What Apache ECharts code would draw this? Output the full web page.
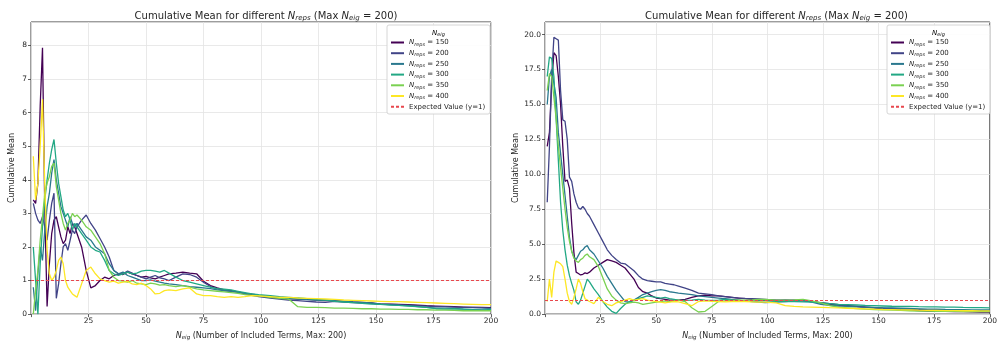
<!DOCTYPE html>
<html>
<head>
<meta charset="utf-8">
<script src="https://cdn.jsdelivr.net/npm/echarts@6/dist/echarts.min.js"></script>
<style>
  html, body { margin: 0; padding: 0; background: #fff; }
  #chart { width: 1000px; height: 346px; }
</style>
</head>
<body>
<div id="chart"></div>
<script>
// Number of included terms at which each cumulative mean is recorded
const xTerms = [
  1, 2, 3, 4, 5, 6, 7, 8, 9, 10, 11, 12, 13, 14, 15, 16, 17, 18, 19, 20,
  22, 24, 26, 28, 30, 32, 34, 36, 38, 40, 42, 44, 46, 48, 50, 52, 54, 56, 58, 60,
  63, 66, 69, 72, 75, 78, 81, 84, 87, 90, 93, 96, 99,
  104, 108, 112, 116, 120, 124, 128, 132, 136, 140, 144, 148, 152, 156, 160, 164, 168, 172, 176, 180, 184, 188, 192, 196, 200
];

const repsValues = ['150', '200', '250', '300', '350', '400'];
const repsColors = ['#440154', '#414487', '#2a788e', '#22a884', '#7ad151', '#fde725'];
const expectedValue = 1;
const expectedName = 'Expected Value (y=1)';

const xTicks = [25, 50, 75, 100, 125, 150, 175, 200];

// Left panel: cumulative means
const leftMean150 = [
  3.4, 3.3, 3.9, 6.2, 7.93, 3.1, 0.23, 1.5, 2.4, 2.8, 2.9, 2.6, 2.3, 2.1, 2.2, 2.6, 2.4, 2.7, 2.6, 2.4,
  2.0, 1.3, 0.78, 0.85, 1.0, 1.1, 1.05, 1.15, 1.2, 1.18, 1.25, 1.2, 1.15, 1.1, 1.12, 1.08, 1.05, 1.1, 1.15, 1.2,
  1.22, 1.25, 1.22, 1.2, 0.98, 0.85, 0.78, 0.72, 0.7, 0.66, 0.62, 0.58, 0.55,
  0.5, 0.48, 0.47, 0.45, 0.44, 0.42, 0.4, 0.4, 0.38, 0.36, 0.35, 0.33, 0.3, 0.3, 0.29, 0.28, 0.27, 0.25, 0.24, 0.23, 0.22, 0.21, 0.2, 0.2, 0.19
];
const leftMean200 = [
  3.3, 3.0, 2.8, 2.7, 2.9, 2.6, 2.2, 2.8, 3.3, 3.6, 0.47, 0.9, 1.5, 2.0, 2.1, 1.9, 2.2, 2.5, 2.4, 2.6,
  2.8, 2.95, 2.7, 2.5, 2.25, 2.0, 1.7, 1.3, 1.2, 1.2, 1.28, 1.22, 1.15, 1.1, 1.05, 1.1, 1.15, 1.08, 1.05, 1.0,
  1.1, 1.2, 1.18, 1.1, 0.95, 0.82, 0.75, 0.7, 0.68, 0.66, 0.6, 0.56, 0.52,
  0.48, 0.45, 0.42, 0.4, 0.38, 0.36, 0.35, 0.38, 0.36, 0.34, 0.33, 0.32, 0.3, 0.29, 0.28, 0.27, 0.25, 0.24, 0.22, 0.22, 0.21, 0.2, 0.2, 0.19, 0.18
];
const leftMean250 = [
  0.8, 0.1, 1.2, 2.0, 1.6, 2.5, 3.2, 3.6, 4.2, 4.6, 4.0, 3.6, 3.2, 3.0, 2.8, 2.6, 2.9, 2.7, 2.6, 2.7,
  2.5, 2.3, 2.2, 2.0, 1.9, 1.8, 1.5, 1.3, 1.2, 1.25, 1.15, 1.1, 1.05, 1.0, 1.0, 1.02, 0.98, 0.95, 0.92, 0.9,
  0.88, 0.85, 0.82, 0.8, 0.78, 0.76, 0.72, 0.7, 0.68, 0.65, 0.62, 0.6, 0.56,
  0.53, 0.5, 0.47, 0.45, 0.43, 0.42, 0.42, 0.4, 0.38, 0.36, 0.35, 0.33, 0.3, 0.28, 0.26, 0.25, 0.22, 0.2, 0.18, 0.18, 0.17, 0.15, 0.14, 0.15, 0.16
];
const leftMean300 = [
  2.0, 1.0, 0.0, 1.5, 2.6, 3.4, 4.0, 4.5, 4.9, 5.2, 4.5, 3.9, 3.5, 3.1, 2.9, 3.0, 2.8, 2.5, 2.7, 2.6,
  2.4, 2.2, 2.0, 1.9, 1.85, 1.6, 1.3, 1.2, 1.15, 1.2, 1.25, 1.2, 1.22, 1.28, 1.3, 1.3, 1.28, 1.25, 1.3, 1.22,
  1.1, 1.0, 0.95, 0.9, 0.85, 0.8, 0.76, 0.74, 0.72, 0.68, 0.64, 0.6, 0.58,
  0.55, 0.52, 0.5, 0.48, 0.46, 0.43, 0.42, 0.38, 0.36, 0.34, 0.32, 0.3, 0.29, 0.27, 0.26, 0.24, 0.22, 0.2, 0.16, 0.15, 0.16, 0.15, 0.13, 0.12, 0.14
];
const leftMean350 = [
  0.0, 0.7, 1.3, 2.2, 2.9, 3.6, 3.9, 4.1, 4.4, 4.5, 3.8, 3.4, 3.0, 2.7, 2.5, 2.7, 2.8, 3.0, 2.9, 2.95,
  2.8, 2.6, 2.5, 2.3, 2.1, 1.8, 1.3, 1.1, 1.0, 0.98, 0.95, 1.0, 0.92, 0.9, 0.88, 0.92, 0.9, 0.86, 0.88, 0.85,
  0.82, 0.85, 0.8, 0.75, 0.72, 0.7, 0.68, 0.66, 0.64, 0.62, 0.58, 0.56, 0.54,
  0.5, 0.47, 0.45, 0.22, 0.2, 0.2, 0.19, 0.18, 0.18, 0.17, 0.16, 0.16, 0.15, 0.15, 0.14, 0.14, 0.13, 0.13, 0.12, 0.12, 0.11, 0.1, 0.1, 0.1, 0.1
];
const leftMean400 = [
  4.7, 3.4, 3.9, 5.0, 6.4, 3.8, 1.9, 1.2, 1.0, 1.1, 1.3, 1.6, 1.7, 1.5, 1.0, 0.8, 0.7, 0.6, 0.55, 0.5,
  0.9, 1.3, 1.4, 1.2, 1.05, 1.0, 0.95, 0.98, 0.92, 0.95, 0.97, 0.9, 0.88, 0.92, 0.85, 0.75, 0.6, 0.62, 0.7, 0.72,
  0.7, 0.75, 0.78, 0.6, 0.55, 0.55, 0.52, 0.5, 0.52, 0.5, 0.52, 0.55, 0.54,
  0.52, 0.5, 0.5, 0.48, 0.47, 0.46, 0.45, 0.44, 0.42, 0.41, 0.4, 0.39, 0.38, 0.37, 0.37, 0.36, 0.35, 0.34, 0.33, 0.32, 0.31, 0.3, 0.29, 0.28, 0.28
];

// Right panel: cumulative means
const rightMean150 = [
  12.0, 13.0, 16.5, 18.7, 18.5, 17.0, 15.0, 12.0, 9.5, 9.6, 9.0, 6.5, 4.4, 3.0, 2.9, 2.8, 2.85, 2.95, 2.9, 3.0,
  3.3, 3.5, 3.7, 3.9, 3.8, 3.7, 3.5, 3.3, 2.9, 2.5, 1.9, 1.6, 1.5, 1.3, 1.15, 1.1, 1.05, 1.0, 1.0, 1.0,
  1.05, 1.2, 1.3, 1.35, 1.3, 1.3, 1.25, 1.2, 1.15, 1.1, 1.05, 1.0, 1.0,
  0.98, 0.95, 0.98, 0.95, 0.9, 0.8, 0.72, 0.65, 0.6, 0.55, 0.5, 0.45, 0.4, 0.35, 0.3, 0.28, 0.25, 0.22, 0.2, 0.2, 0.18, 0.17, 0.16, 0.15, 0.15
];
const rightMean200 = [
  8.0, 12.0, 17.0, 19.8, 19.7, 19.6, 16.0, 13.9, 13.8, 12.5, 9.8, 9.5, 8.6, 8.0, 7.6, 7.5, 7.7, 7.5, 7.2, 7.0,
  6.4, 5.8, 5.2, 4.6, 4.2, 3.9, 3.65, 3.6, 3.35, 3.1, 2.75, 2.5, 2.4, 2.35, 2.3, 2.3, 2.2, 2.15, 2.1, 2.0,
  1.85, 1.7, 1.5, 1.45, 1.4, 1.3, 1.25, 1.2, 1.15, 1.12, 1.1, 1.08, 1.05,
  1.0, 1.02, 1.0, 0.98, 0.9, 0.82, 0.75, 0.68, 0.6, 0.55, 0.5, 0.46, 0.42, 0.4, 0.37, 0.35, 0.33, 0.31, 0.3, 0.28, 0.27, 0.26, 0.25, 0.24, 0.23
];
const rightMean250 = [
  15.0, 17.0, 17.5, 16.5, 15.5, 13.0, 11.5, 10.0, 8.5, 7.0, 5.5, 4.5, 4.1, 3.9, 4.2, 4.5, 4.6, 4.8, 4.9, 4.6,
  4.3, 3.8, 3.3, 2.7, 2.2, 1.7, 1.3, 0.9, 0.85, 1.0, 1.2, 1.4, 1.5, 1.6, 1.7, 1.75, 1.7, 1.6, 1.55, 1.5,
  1.45, 1.4, 1.3, 1.25, 1.2, 1.15, 1.1, 1.05, 1.0, 0.95, 0.9, 0.85, 0.82,
  0.85, 0.9, 0.95, 0.98, 0.85, 0.7, 0.62, 0.58, 0.55, 0.52, 0.5, 0.48, 0.45, 0.44, 0.42, 0.4, 0.38, 0.36, 0.35, 0.33, 0.32, 0.31, 0.3, 0.3, 0.3
];
const rightMean300 = [
  17.0, 18.4, 18.3, 17.0, 14.0, 11.0, 8.0, 6.0, 4.6, 3.5, 2.75, 2.2, 1.7, 0.88, 0.7, 1.0, 1.5, 2.0, 2.5, 2.3,
  1.8, 1.4, 0.9, 0.5, 0.2, 0.05, 0.4, 0.7, 0.9, 1.0, 1.1, 1.2, 1.3, 1.25, 1.2, 1.15, 1.2, 1.1, 1.05, 1.0,
  0.98, 1.0, 1.05, 1.0, 0.98, 1.0, 1.05, 1.0, 0.98, 0.95, 0.93, 0.95, 0.95,
  0.92, 0.9, 0.9, 0.88, 0.85, 0.8, 0.75, 0.7, 0.68, 0.65, 0.62, 0.6, 0.58, 0.56, 0.55, 0.55, 0.53, 0.52, 0.52, 0.5, 0.5, 0.48, 0.47, 0.46, 0.45
];
const rightMean350 = [
  16.0, 17.2, 17.0, 15.5, 14.0, 12.0, 10.5, 9.0, 7.5, 6.2, 5.2, 4.5, 4.0, 3.8, 3.7, 3.9, 4.0, 4.2, 4.3, 4.1,
  3.9, 3.4, 2.6, 1.8, 1.3, 1.0, 0.8, 0.75, 0.8, 0.85, 0.8, 0.7, 0.75, 0.8, 0.85, 0.9, 0.95, 0.9, 0.95, 1.0,
  0.9, 0.45, 0.15, 0.2, 0.55, 0.9, 0.95, 0.98, 1.0, 1.0, 1.02, 1.05, 1.05,
  1.0, 1.0, 1.02, 1.05, 0.95, 0.8, 0.6, 0.5, 0.45, 0.4, 0.36, 0.33, 0.3, 0.28, 0.26, 0.24, 0.22, 0.22, 0.2, 0.2, 0.19, 0.18, 0.18, 0.17, 0.17
];
const rightMean400 = [
  0.9, 2.5, 1.2, 3.0, 3.8, 3.7, 3.6, 3.4, 2.5, 1.5, 0.9, 0.7, 1.2, 1.8, 2.5, 2.2, 1.6, 1.1, 1.0, 0.9,
  0.75, 1.2, 0.9, 0.7, 0.6, 0.8, 0.9, 1.0, 1.1, 1.0, 1.05, 1.1, 1.0, 0.95, 0.9, 0.85, 0.8, 0.85, 0.9, 0.88,
  0.75, 0.6, 0.9, 0.95, 0.92, 0.9, 0.88, 0.9, 0.92, 0.9, 0.88, 0.85, 0.85,
  0.8, 0.6, 0.55, 0.52, 0.5, 0.48, 0.46, 0.45, 0.42, 0.4, 0.38, 0.35, 0.33, 0.32, 0.3, 0.3, 0.28, 0.27, 0.26, 0.25, 0.25, 0.24, 0.24, 0.23, 0.23
];

const leftMeans = [leftMean150, leftMean200, leftMean250, leftMean300, leftMean350, leftMean400];
const rightMeans = [rightMean150, rightMean200, rightMean250, rightMean300, rightMean350, rightMean400];

const FONT = 'DejaVu Sans';
const TEXT = '#262626';

// Rich-text styles for italic N with a subscript
function subRich(size, lineH, subSize, subLineH) {
  return {
    n: { fontFamily: FONT, fontStyle: 'italic', fontSize: size, lineHeight: lineH, color: TEXT },
    s: { fontFamily: FONT, fontStyle: 'italic', fontSize: subSize, lineHeight: subLineH, verticalAlign: 'bottom', color: TEXT },
    t: { fontFamily: FONT, fontSize: size, lineHeight: lineH, color: TEXT }
  };
}

const panels = [
  { means: leftMeans, grid: { left: 31, top: 22, width: 460, height: 301 }, yMax: 8.7, yInterval: 1, yDigits: 0,
    legendLeft: 390, boxX: 387, nameGap: 15 },
  { means: rightMeans, grid: { left: 545, top: 22, width: 453, height: 301 }, yMax: 20.9, yInterval: 2.5, yDigits: 1,
    legendLeft: 890, boxX: 887, nameGap: 20 }
];

const titles = [], grids = [], xAxes = [], yAxes = [], series = [], legends = [], graphics = [];

panels.forEach((p, gi) => {
  grids.push(Object.assign({ show: true, borderColor: '#3a3a3a', borderWidth: 1, backgroundColor: '#fff' }, p.grid));
  titles.push({
    text: '{t|Cumulative Mean for different }{n|N}{s|reps}{t| (Max }{n|N}{s|eig}{t| = 200)}',
    left: p.grid.left + p.grid.width / 2,
    top: 5,
    textAlign: 'center',
    textStyle: { fontFamily: FONT, fontSize: 10, fontWeight: 'normal', color: TEXT, lineHeight: 12, rich: subRich(10, 12, 7, 4.5) }
  });
  xAxes.push({
    gridIndex: gi, type: 'value', min: 0, max: 200, interval: 25,
    name: '{n|N}{s|eig}{t| (Number of Included Terms, Max: 200)}',
    nameLocation: 'middle', nameGap: 13,
    nameTextStyle: { fontFamily: FONT, fontSize: 8, color: TEXT, lineHeight: 11, rich: subRich(8, 11, 5.5, 4) },
    axisLine: { show: false },
    axisTick: { show: true, length: 3, lineStyle: { color: '#3a3a3a', width: 0.8 } },
    axisLabel: { fontFamily: FONT, fontSize: 7.5, color: TEXT, margin: 3,
      formatter: v => (xTicks.indexOf(v) >= 0 ? String(v) : '') },
    splitLine: { show: true, lineStyle: { color: '#e3e3e3', width: 0.8 } }
  });
  yAxes.push({
    gridIndex: gi, type: 'value', min: 0, max: p.yMax, interval: p.yInterval,
    name: 'Cumulative Mean', nameLocation: 'middle', nameGap: p.nameGap,
    nameTextStyle: { fontFamily: FONT, fontSize: 8, color: TEXT },
    axisLine: { show: false },
    axisTick: { show: true, length: 3, lineStyle: { color: '#3a3a3a', width: 0.8 } },
    axisLabel: { fontFamily: FONT, fontSize: 7.5, color: TEXT, margin: 4, showMaxLabel: false,
      formatter: v => v.toFixed(p.yDigits) },
    splitLine: { show: true, lineStyle: { color: '#e3e3e3', width: 0.8 } }
  });

  p.means.forEach((vals, k) => {
    series.push({
      type: 'line', name: repsValues[k], xAxisIndex: gi, yAxisIndex: gi,
      data: xTerms.map((x, i) => [x, vals[i]]),
      symbol: 'none', smooth: false, z: 2 + k * 0.01,
      lineStyle: { color: repsColors[k], width: 1.3 },
      itemStyle: { color: repsColors[k] },
      emphasis: { disabled: true }, animation: false
    });
  });
  series.push({
    type: 'line', name: expectedName, xAxisIndex: gi, yAxisIndex: gi, data: [],
    symbol: 'none',
    lineStyle: { color: '#e8474d', width: 1.2, type: [3, 2] },
    itemStyle: { color: '#e8474d' },
    markLine: {
      silent: true, symbol: 'none', label: { show: false },
      lineStyle: { color: '#e8474d', width: 1.2, type: [3, 2] },
      data: [{ yAxis: expectedValue }]
    },
    animation: false
  });

  legends.push({
    orient: 'vertical', left: p.legendLeft, top: 38,
    itemWidth: 13, itemHeight: 8, itemGap: 1.7, padding: 0,
    data: repsValues.concat([expectedName]),
    itemStyle: { opacity: 0 },
    formatter: name => (name === expectedName ? '{t|' + name + '}' : '{n|N}{s|reps}{t| = ' + name + '}'),
    textStyle: { fontFamily: FONT, fontSize: 7, color: TEXT, lineHeight: 9, rich: subRich(7, 9, 5, 3.5) },
    selectedMode: false, z: 6
  });

  graphics.push({
    type: 'rect', z: 5,
    shape: { x: p.boxX, y: 25, width: 103, height: 89, r: 2 },
    style: { fill: 'rgba(255,255,255,0.9)', stroke: '#cccccc', lineWidth: 0.8 }
  });
  graphics.push({
    type: 'text', z: 6,
    x: p.boxX + 51.5, y: 33,
    style: {
      text: '{n|N}{s|eig}', align: 'center', verticalAlign: 'middle',
      rich: subRich(7, 9, 5, 3.5)
    }
  });
});

const chart = echarts.init(document.getElementById('chart'), null, { renderer: 'canvas' });
chart.setOption({
  backgroundColor: '#ffffff',
  animation: false,
  title: titles,
  grid: grids,
  xAxis: xAxes,
  yAxis: yAxes,
  legend: legends,
  graphic: graphics,
  series: series
});
</script>
</body>
</html>
